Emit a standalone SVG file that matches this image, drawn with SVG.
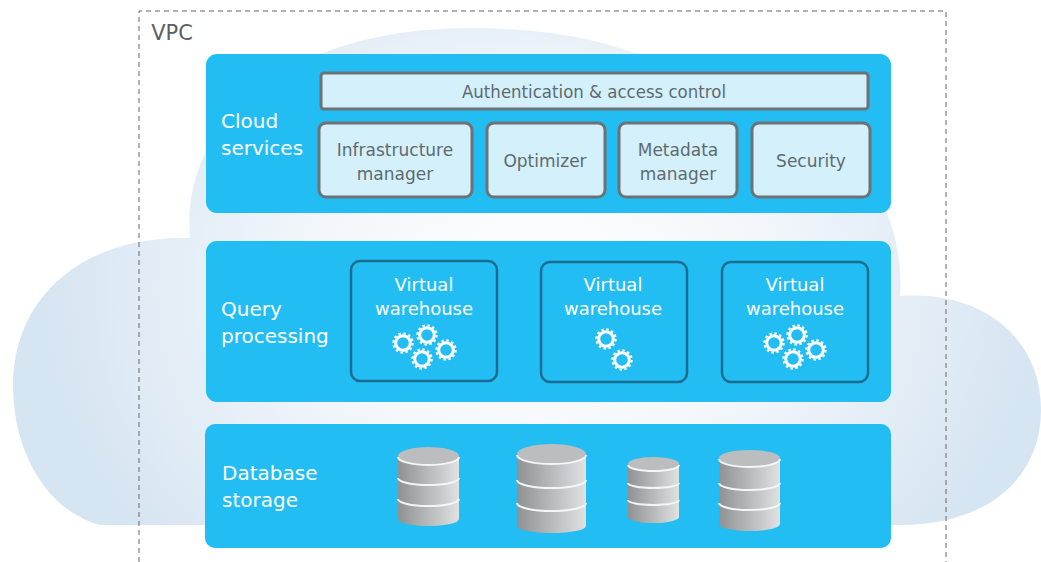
<svg xmlns="http://www.w3.org/2000/svg" xmlns:xlink="http://www.w3.org/1999/xlink" width="1041" height="562" viewBox="0 0 1041 562">
<style>
text{font-family:"DejaVu Sans","Liberation Sans",sans-serif;text-anchor:middle}
.band{fill:#22bdf3}
.light{fill:#d3f0fb;stroke:#6b7377;stroke-width:3}
.vw{fill:#22bdf3;stroke:#1a6d8f;stroke-width:2.5}
.dk{fill:#5f6a70;font-size:17px}
.wh{fill:#fff;font-size:18px}
.lab{fill:#fff;font-size:20px;text-anchor:start}
.disk{fill:none;stroke:#f4f6f6;stroke-width:2}
</style>
<defs>
<radialGradient id="cl" gradientUnits="userSpaceOnUse" cx="540" cy="290" r="500" gradientTransform="translate(0 60) scale(1 .8)">
<stop offset="0" stop-color="#ffffff"/><stop offset=".45" stop-color="#f3f7fb"/><stop offset="1" stop-color="#d6e5f2"/>
</radialGradient>
<linearGradient id="cy" x1="0" x2="1" y1="0" y2="0"><stop offset="0" stop-color="#8f9193"/><stop offset="1" stop-color="#e0e2e2"/></linearGradient>
<g id="gear"><circle r="7.3" fill="none" stroke="#fff" stroke-width="3"/><circle r="9.6" fill="none" stroke="#fff" stroke-width="2.2" stroke-dasharray="2.5 2.53"/></g>
<g id="db">
<path d="M-1 -.78V.78A1 .2 0 0 0 1 .78V-.78Z" fill="url(#cy)"/>
<ellipse cy="-.78" rx="1" ry=".2" fill="#bcbdbf"/>
</g>
</defs>
<g id="cloud"><path fill="url(#cl)" d="M190 238C180 120 290 28 470 28C610 28 700 70 760 130C850 130 905 200 900 296C985 290 1041 340 1041 410C1041 480 985 525 900 525H205C150 525 110 525 100 525C45 510 13 450 13 385C13 300 80 235 190 238Z"/></g>
<g id="vpc"><path d="M139 562V11H946V562" fill="none" stroke="#666" stroke-width="1" stroke-dasharray="5 4"/>
<text x="172" y="40" style="fill:#5a5f63;font-size:21px">VPC</text></g>
<g id="cloud-services"><rect class="band" x="206" y="54" width="685" height="159" rx="11"/>
<text class="lab" x="221" y="128">Cloud</text><text class="lab" x="221" y="155">services</text></g>
<g id="auth"><rect class="light" x="321" y="73" width="547" height="36" rx="3"/><text class="dk" x="594" y="98" textLength="264" lengthAdjust="spacingAndGlyphs">Authentication &amp; access control</text></g>
<g id="infra"><rect class="light" x="319" y="123" width="153" height="74" rx="7"/><text class="dk" x="395" y="156">Infrastructure</text><text class="dk" x="395" y="180">manager</text></g>
<g id="optimizer"><rect class="light" x="487" y="123" width="118" height="74" rx="7"/><text class="dk" x="545" y="167">Optimizer</text></g>
<g id="metadata"><rect class="light" x="619" y="123" width="118" height="74" rx="7"/><text class="dk" x="678" y="156">Metadata</text><text class="dk" x="678" y="180">manager</text></g>
<g id="security"><rect class="light" x="752" y="123" width="118" height="74" rx="7"/><text class="dk" x="811" y="167">Security</text></g>
<g id="query-processing"><rect class="band" x="206" y="241" width="685" height="161" rx="11"/>
<text class="lab" x="221" y="316">Query</text><text class="lab" x="221" y="343">processing</text></g>
<g id="vw1"><rect class="vw" x="351" y="261" width="146" height="120" rx="9"/><text class="wh" x="424" y="291">Virtual</text><text class="wh" x="424" y="315">warehouse</text>
<use xlink:href="#gear" href="#gear" x="403" y="343"/><use xlink:href="#gear" href="#gear" x="427" y="335"/><use xlink:href="#gear" href="#gear" x="446" y="350"/><use xlink:href="#gear" href="#gear" x="422" y="359"/></g>
<g id="vw2"><rect class="vw" x="541" y="262" width="146" height="120" rx="9"/><text class="wh" x="613" y="291">Virtual</text><text class="wh" x="613" y="315">warehouse</text>
<use xlink:href="#gear" href="#gear" x="606" y="339"/><use xlink:href="#gear" href="#gear" x="622" y="360"/></g>
<g id="vw3"><rect class="vw" x="722" y="262" width="146" height="120" rx="9"/><text class="wh" x="795" y="291">Virtual</text><text class="wh" x="795" y="315">warehouse</text>
<use xlink:href="#gear" href="#gear" x="774" y="343"/><use xlink:href="#gear" href="#gear" x="797" y="335"/><use xlink:href="#gear" href="#gear" x="816" y="350"/><use xlink:href="#gear" href="#gear" x="793" y="359"/></g>
<g id="database-storage"><rect class="band" x="205" y="424" width="686" height="124" rx="10"/>
<text class="lab" x="222" y="480">Database</text><text class="lab" x="222" y="507">storage</text></g>
<g id="db1"><path d="M398 456V519A30.500 7 0 0 0 459 519V456Z" fill="url(#cy)"/><ellipse cx="428.500" cy="456" rx="30.500" ry="9" fill="#bcbdbf"/><path class="disk" d="M398 457A30.500 8 0 0 0 459 457M398 478A30.500 7 0 0 0 459 478M398 499A30.500 7 0 0 0 459 499"/></g>
<g id="db2"><path d="M517 454V526A34.500 7 0 0 0 586 526V454Z" fill="url(#cy)"/><ellipse cx="551.500" cy="454" rx="34.500" ry="10" fill="#bcbdbf"/><path class="disk" d="M517 455A34.500 9 0 0 0 586 455M517 480A34.500 8 0 0 0 586 480M517 503A34.500 8 0 0 0 586 503"/></g>
<g id="db3"><path d="M628 464V517A25 6 0 0 0 679 517V464Z" fill="url(#cy)"/><ellipse cx="653.500" cy="464" rx="25.500" ry="7" fill="#bcbdbf"/><path class="disk" d="M628 465A25.500 6 0 0 0 679 465M628 483A25.500 5 0 0 0 679 483M628 500A25.500 5 0 0 0 679 500"/></g>
<g id="db4"><path d="M719 458V524A30.500 7 0 0 0 780 524V458Z" fill="url(#cy)"/><ellipse cx="749.500" cy="458" rx="30.500" ry="8" fill="#bcbdbf"/><path class="disk" d="M719 459A30.500 8 0 0 0 780 459M719 483A30.500 7 0 0 0 780 483M719 503A30.500 7 0 0 0 780 503"/></g>
<g id="connectors"/>
</svg>
